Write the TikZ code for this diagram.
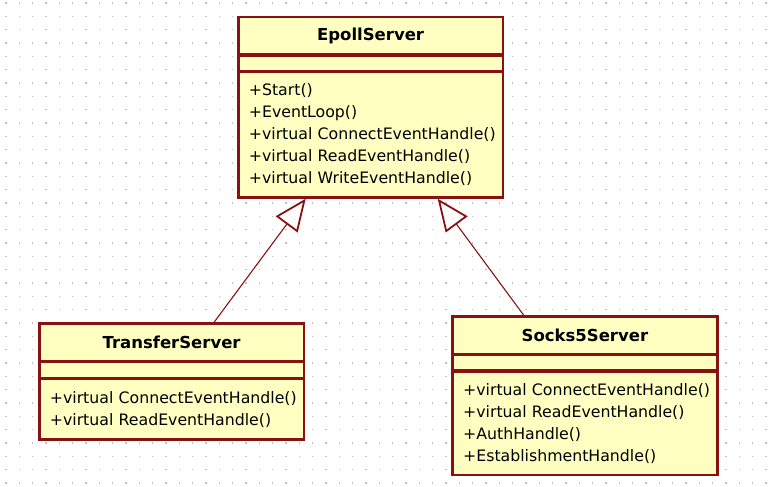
\documentclass[tikz,border=0pt]{standalone}
\usepackage{fontspec}
\setmainfont{DejaVu Sans}
\usetikzlibrary{positioning}
\usetikzlibrary{arrows.meta}
\definecolor{umlborder}{RGB}{136,18,18}
\definecolor{umlfill}{RGB}{255,255,194}
\definecolor{griddot}{RGB}{192,192,192}

\begin{document}
\begin{tikzpicture}[x=1pt, y=-1pt,
         classname/.style = {draw=umlborder, fill=umlfill, line width=1.7pt,
         minimum width=263.5pt, minimum height=36.5pt, inner sep=0pt,
         font=\fontsize{16.5}{22}\selectfont\bfseries},
         classattr/.style = {draw=umlborder, fill=umlfill, line width=1.7pt,
         minimum width=263.5pt, minimum height=15pt, inner sep=0pt},
         classops/.style = {draw=umlborder, fill=umlfill, line width=1.7pt,
         text width=253pt, inner xsep=5.25pt, inner ysep=0pt, align=left,
         execute at begin node={\leftskip=4.75pt},
         font=\fontsize{15.75}{22}\selectfont},
         classframe/.style = {draw=umlborder, line width=2.2pt},
         inherit/.style = {draw=umlborder, line width=1.1pt,
         -{Triangle[open, fill=white, length=32pt, width=27pt, line width=1.8pt]}}
]
      \useasboundingbox (0,0) rectangle (776,487);

      % dotted grid
      \foreach \i in {0,...,57} {
         \foreach \j in {0,...,36} {
            \fill[griddot] ({5.2+13.333*\i},{2.2+13.333*\j}) rectangle ++(1.6,1.6);
         }
      }

      % base class
      \node[classname, anchor=north west] at (238,16.7) (epoll) {EpollServer};
      \node[classattr, below=0pt of epoll]                (epollattr) {};
      \node[classops, minimum height=124.4pt, below=0pt of epollattr] (epollops)
         {+Start()\\+EventLoop()\\+virtual ConnectEventHandle()\\
          +virtual ReadEventHandle()\\+virtual WriteEventHandle()};
      \draw[classframe] (epoll.north west) rectangle (epollops.south east);

      % transfer server
      \node[classname, anchor=north west] at (39,323.3) (transfer) {TransferServer};
      \node[classattr, below=0pt of transfer]                (transferattr) {};
      \node[classops, minimum height=60pt, below=0pt of transferattr] (transferops)
         {+virtual ConnectEventHandle()\\+virtual ReadEventHandle()};
      \draw[classframe] (transfer.north west) rectangle (transferops.south east);

      % socks5 server
      \node[classname, anchor=north west] at (452.3,316) (socks) {Socks5Server};
      \node[classattr, below=0pt of socks]                (socksattr) {};
      \node[classops, minimum height=102.7pt, below=0pt of socksattr] (socksops)
         {+virtual ConnectEventHandle()\\+virtual ReadEventHandle()\\
          +AuthHandle()\\+EstablishmentHandle()};
      \draw[classframe] (socks.north west) rectangle (socksops.south east);

      % generalisation
      \draw[inherit] ([xshift=174.3pt]transfer.north west)
         -- ([xshift=67.7pt,yshift=-1pt]epollops.south west);
      \draw[inherit] ([xshift=72pt]socks.north west)
         -- ([xshift=199.7pt,yshift=-1pt]epollops.south west);

\end{tikzpicture}
\end{document}
